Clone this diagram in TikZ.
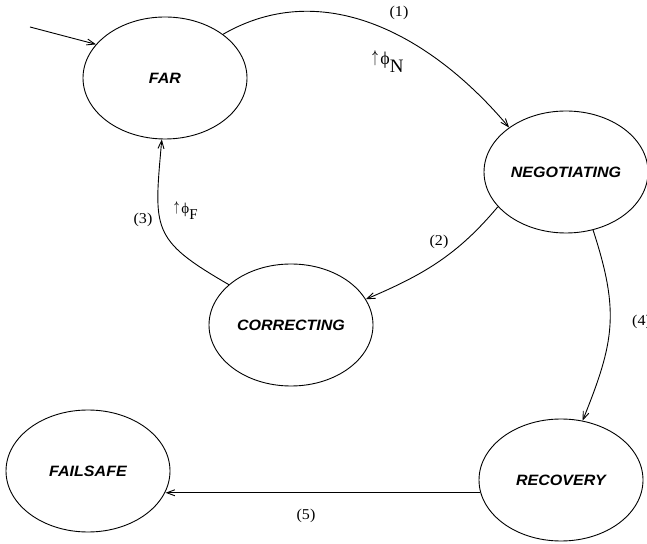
\documentclass[tikz,border=0pt]{standalone}
\usepackage{amsmath}
\usepackage{fontspec}
\usepackage{graphicx}
\setmainfont{Liberation Serif}
\newfontfamily\statefont{Liberation Sans}
\usetikzlibrary{arrows.meta, shapes}
\newcommand{\stretched}[1]{\scalebox{1.07}[1]{#1}}

\begin{document}
\begin{tikzpicture}
            [
                x=1pt, y=1pt,
                state/.style={ellipse, draw, line width=0.9pt,
                    minimum width=164pt, minimum height=122pt, inner sep=0pt,
                    font=\statefont\bfseries\itshape\fontsize{15}{18}\selectfont},
                edge/.style={line width=0.9pt, -{Straight Barb[length=8pt, width=6pt]}},
                tag/.style={inner sep=0pt, font=\fontsize{15}{18}\selectfont}
            ]
            \useasboundingbox (0,0) rectangle (647,543);
            \node [state] (far) at (165,465) {\stretched{FAR}};
            \node [state] (neg) at (566,371) {\stretched{NEGOTIATING}};
            \node [state] (cor) at (291,218) {\stretched{CORRECTING}};
            \node [state] (fail) at (88,72) {\stretched{FAILSAFE}};
            \node [state] (rec) at (561,63) {\stretched{RECOVERY}};
            \coordinate (init) at (30,516);
            \draw [edge] (init) -- (far.154);
            \draw [edge] (far.37) to[out=30, in=130] (neg.142);
            \draw [edge] (neg.207) to[out=230, in=23] (cor.19);
            \draw [edge] (cor.147) to[out=150, in=265, looseness=1.45] (far.267);
            \draw [edge] (neg.295) to[out=288, in=68, looseness=1.15] (rec.70);
            \draw [edge] (rec.189) -- (rec.189 -| fail.345);
            \node [tag] (t1) at (399,530) {\stretched{(1)}};
            \node [tag] (t2) at (439,301) {\stretched{(2)}};
            \node [tag] (t3) at (143,323) {\stretched{(3)}};
            \node [tag, anchor=west] (t4) at (632,221) {\stretched{(4)}};
            \node [tag] (t5) at (306,27) {\stretched{(5)}};
            \node [tag] (phiN) at (388,481)
                {\raisebox{2pt}{\scalebox{0.55}[1]{\fontsize{17}{17}\selectfont$\boldsymbol{\uparrow}$}}\,{\fontsize{18}{18}\selectfont ϕ}\raisebox{-8pt}{\fontsize{19}{19}\selectfont N}};
            \node [tag] (phiF) at (186,332)
                {\raisebox{2pt}{\scalebox{0.55}[1]{\fontsize{15}{15}\selectfont$\boldsymbol{\uparrow}$}}\,{\fontsize{15}{15}\selectfont ϕ}\raisebox{-6pt}{\fontsize{15}{15}\selectfont F}};
        \end{tikzpicture}
\end{document}
